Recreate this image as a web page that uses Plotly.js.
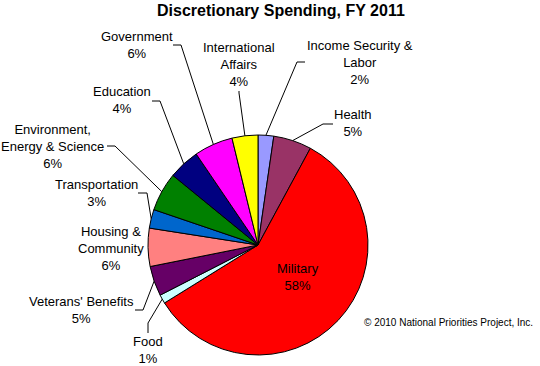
<!DOCTYPE html>
<html><head><meta charset="utf-8">
<script src="https://cdn.plot.ly/plotly-3.0.1.min.js"></script>
<style>html,body{margin:0;padding:0;background:#fff}#chart{width:540px;height:366px}</style>
</head><body><div id="chart"></div>
<script>
// ---- data ----
const categories = ["Income Security &\nLabor", "Health", "Military", "Food", "Veterans' Benefits",
  "Housing &\nCommunity", "Transportation", "Environment,\nEnergy & Science", "Education", "Government",
  "International\nAffairs"];
const shares = [2.3, 5.6, 58.3, 1.3, 4.4, 5.6, 2.75, 5.7, 4.6, 5.7, 3.8];
const percentLabels = ["2%", "5%", "58%", "1%", "5%", "6%", "3%", "6%", "4%", "6%", "4%"];
const sliceColors = ["#9999FF", "#993366", "#FF0000", "#CCFFFF", "#660066", "#FF8080",
  "#0066CC", "#008000", "#000080", "#FF00FF", "#FFFF00"];
const titleText = "Discretionary Spending, FY 2011";
const creditText = "© 2010 National Priorities Project, Inc.";

// ---- layout config (pixels) ----
const W = 540, H = 366;
const PIE = {cx: 258, cy: 245, r: 110};
// label centre, leader start, leader elbow (no s = no leader)
const labelPos = [
  {x: 360, y: 63, s: [305, 62], e: [297, 62]},
  {x: 353, y: 123, s: [333, 124], e: [323, 124]},
  {x: 298, y: 277},
  {x: 148, y: 350, s: [148, 333], e: [148, 323]},
  {x: 81, y: 310, s: [135, 310], e: [143, 310]},
  {x: 111, y: 248},
  {x: 96, y: 193, s: [138, 193], e: [147, 193]},
  {x: 52, y: 146, s: [107, 146], e: [115, 146]},
  {x: 122, y: 100, s: [152, 101], e: [160, 101]},
  {x: 137, y: 45, s: [173, 45], e: [181, 45]},
  {x: 239, y: 65, s: [239, 91], e: [239, 93]}
];

const px = x => x / W;
const py = y => 1 - y / H;

const total = shares.reduce((a, b) => a + b, 0);
let cum = 0;
const annotations = [];
const shapes = [];
shares.forEach((v, i) => {
  const mid = 2 * Math.PI * (cum + v / 2) / total;
  cum += v;
  const ex = PIE.cx + PIE.r * Math.sin(mid);
  const ey = PIE.cy - PIE.r * Math.cos(mid);
  const lp = labelPos[i];
  annotations.push({
    x: px(lp.x), y: py(lp.y), xref: 'paper', yref: 'paper',
    xanchor: 'center', yanchor: 'middle', showarrow: false, align: 'center',
    text: categories[i].replace(/\n/g, '<br>') + '<br>' + percentLabels[i],
    font: {family: 'Liberation Sans, Arial, sans-serif', size: 13, color: '#000'}
  });
  if (lp.s) {
    shapes.push({
      type: 'path', xref: 'paper', yref: 'paper',
      path: `M ${px(lp.s[0])} ${py(lp.s[1])} L ${px(lp.e[0])} ${py(lp.e[1])} L ${px(ex)} ${py(ey)}`,
      line: {color: '#000', width: 1}
    });
  }
});

annotations.push({
  x: px(W / 2 + 11), y: py(10), xref: 'paper', yref: 'paper', xanchor: 'center', yanchor: 'middle',
  showarrow: false, text: '<b>' + titleText + '</b>',
  font: {family: 'Liberation Sans, Arial, sans-serif', size: 16, color: '#000'}
});
annotations.push({
  x: px(448), y: py(322), xref: 'paper', yref: 'paper', xanchor: 'center', yanchor: 'middle',
  showarrow: false, text: creditText,
  font: {family: 'Liberation Sans, Arial, sans-serif', size: 10, color: '#000'}
});

const trace = {
  type: 'pie', values: shares, labels: categories, sort: false, direction: 'clockwise', rotation: 0,
  marker: {colors: sliceColors, line: {color: '#000', width: 1}},
  textinfo: 'none', hoverinfo: 'none', showlegend: false,
  domain: {x: [px(PIE.cx - PIE.r), px(PIE.cx + PIE.r)], y: [py(PIE.cy + PIE.r), py(PIE.cy - PIE.r)]}
};

Plotly.newPlot('chart', [trace], {
  width: W, height: H, margin: {l: 0, r: 0, t: 0, b: 0},
  paper_bgcolor: '#fff', showlegend: false, annotations, shapes
}, {staticPlot: true});
</script></body></html>
